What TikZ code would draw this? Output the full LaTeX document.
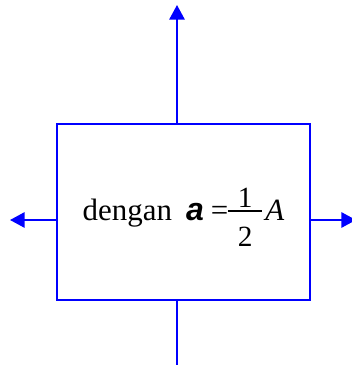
\documentclass[tikz,border=0pt]{standalone}
\usepackage{fontspec}
\setmainfont{Liberation Serif}
\setsansfont{Liberation Sans}
\usetikzlibrary{arrows.meta}
\newcommand{\frdigit}[1]{{\fontsize{22}{22}\selectfont #1}}
\newcommand{\halffrac}{%
  \makebox[0pt][l]{\makebox[25.5pt]{\raisebox{9.5pt}{\frdigit{1}}}}%
  \makebox[0pt][l]{\rule[6.3pt]{25.5pt}{1.2pt}}%
  \makebox[25.5pt]{\raisebox{-20pt}{\frdigit{2}}}}
\tikzset{
  frbox/.style={draw=blue,line width=1.5pt,minimum width=189.75pt,minimum height=132pt,inner sep=0pt,
    text height=20pt,text depth=8pt,font=\fontsize{23.2}{28}\selectfont},
  frflow/.style={-{Triangle[length=11pt,width=11.5pt]},draw=blue,fill=blue,line width=1.5pt},
  frline/.style={draw=blue,line width=1.5pt},
}
\begin{document}
\begin{tikzpicture}[x=0.75pt,y=-0.75pt]
\useasboundingbox (0,0) rectangle (351,366);
\node[frbox] (box) at (183.5,212) {dengan\hspace{10.5pt}{\fontsize{24}{24}\sffamily\bfseries\itshape a}\hspace{5.25pt}=\halffrac\hspace{2.25pt}\textit{A}\hspace{5.25pt}};
\coordinate (up) at (177,5);
\coordinate (down) at (177,365);
\coordinate (left) at (10,220);
\coordinate (right) at (356,220);
\draw[frflow] (box.north -| up) -- (up);
\draw[frflow] (box.west |- left) -- (left);
\draw[frflow] (box.east |- right) -- (right);
\draw[frline] (box.south -| down) -- (down);
\end{tikzpicture}
\end{document}
